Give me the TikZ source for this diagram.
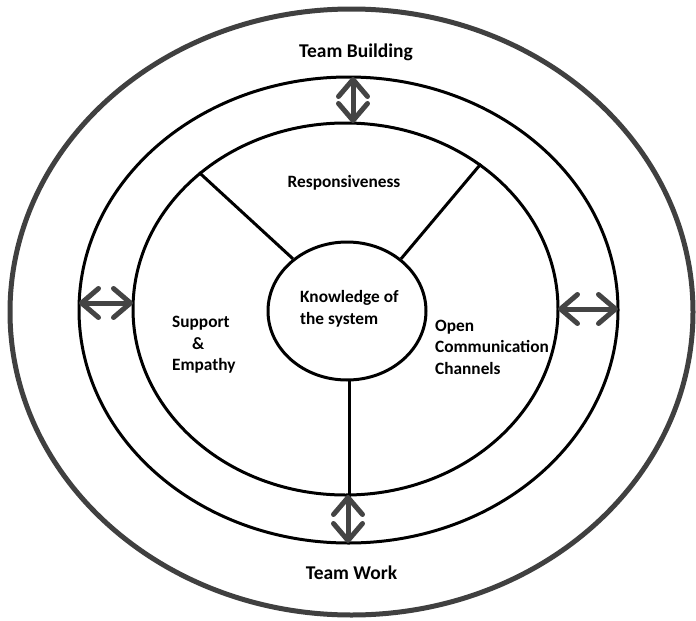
\documentclass[tikz,border=0pt]{standalone}
\usepackage{fontspec}
\setmainfont{Carlito}
\usetikzlibrary{shapes.geometric,arrows.meta}
\definecolor{ringgrey}{HTML}{404040}
\definecolor{arrowgrey}{HTML}{444444}
\begin{document}
\begin{tikzpicture}[x=1pt,y=-1pt,
  ringline/.style={draw, ellipse, inner sep=0pt, line width=3pt},
  outerring/.style={draw=ringgrey, ellipse, inner sep=0pt, line width=5pt},
  spoke/.style={line width=3pt},
  biarrow/.style={draw=arrowgrey, line width=5pt, line cap=round, {Straight Barb[length=17pt,width=29pt,line cap=round,line join=round]}-{Straight Barb[length=17pt,width=29pt,line cap=round,line join=round]}},
  lbl/.style={font=\bfseries\fontsize{17.3}{21.5}\selectfont, inner sep=0pt, align=left},
  biglbl/.style={font=\bfseries\fontsize{19.5}{24}\selectfont, inner sep=0pt}]
\useasboundingbox (0,0) rectangle (696,621);

% rings
\node[outerring, minimum width=683pt, minimum height=606pt] (outer) at (351.5,312) {};
\node[ringline, minimum width=539pt, minimum height=466pt] (ring) at (348.5,310) {};
\node[ringline, minimum width=425pt, minimum height=372pt] (mid) at (345.5,309) {};
\node[ringline, minimum width=158pt, minimum height=138pt] (core) at (347,311) {};

% spokes between the core and the middle ring
\draw[spoke] (core.136) -- (mid.137);
\draw[spoke] (core.44) -- (mid.47);
\draw[spoke] (core.272) -- (core.272 |- mid.south);

% arrow end points on the rings
\coordinate (topA) at (353,77);
\coordinate (topB) at (353,123);
\coordinate (leftA) at (79,303);
\coordinate (leftB) at (133,303);
\coordinate (rightA) at (558,309);
\coordinate (rightB) at (618,309);
\coordinate (botA) at (348,495);
\coordinate (botB) at (348,543);

\draw[biarrow] (topA) -- (topB);
\draw[biarrow] (leftA) -- (leftB);
\draw[biarrow] (rightA) -- (rightB);
\draw[biarrow] (botA) -- (botB);

% labels
\node[biglbl] (tb) at (356,52) {Team Building};
\node[biglbl] (tw) at (351.5,573) {Team Work};
\node[lbl] (resp) at (344,183) {Responsiveness};
\node[lbl, anchor=west] (know) at (300,309) {Knowledge of\\the system};
\node[lbl, anchor=west] (supp) at (172,345) {Support\\\hspace*{20pt}\&\\Empathy};
\node[lbl, anchor=west] (open) at (435,347) {Open\\Communication\\Channels};
\end{tikzpicture}
\end{document}
